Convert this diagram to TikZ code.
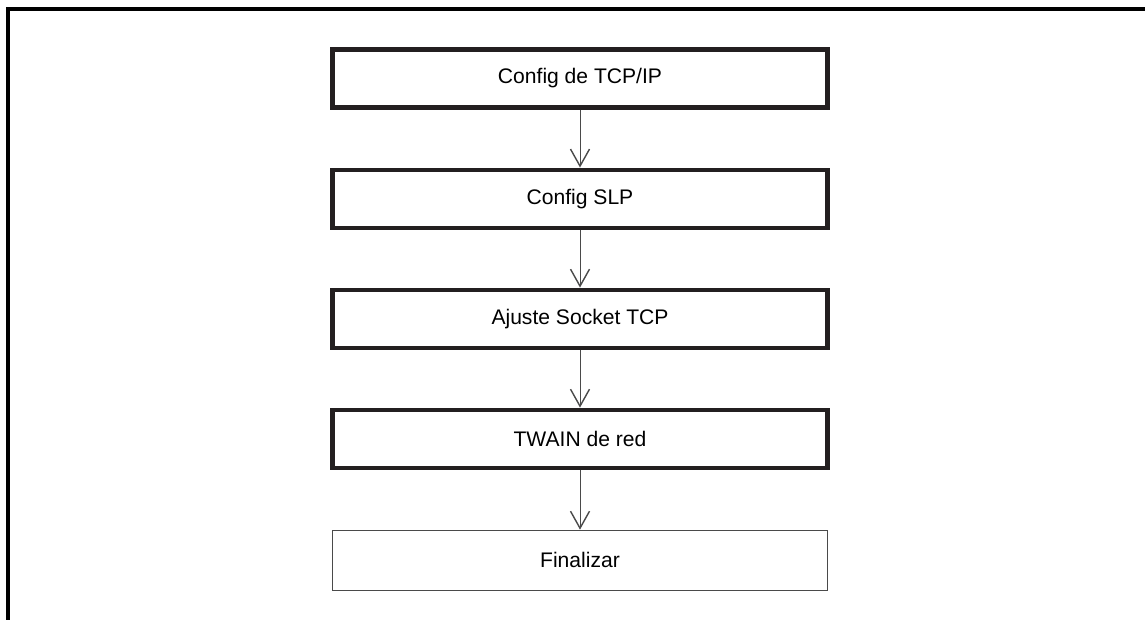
\documentclass[tikz,border=0pt]{standalone}
\usepackage{fontspec}
\setmainfont{Liberation Sans}
\usetikzlibrary{arrows.meta, positioning}

\definecolor{boxInk}{HTML}{231F20}
\definecolor{arrowInk}{HTML}{4A4A4A}

\begin{document}
\begin{tikzpicture}[
        node distance=1.16cm,
        stepBox/.style={
            rectangle,
            draw=boxInk,
            line width=2.3pt,
            minimum width=9.9cm,
            minimum height=1.16cm,
            font=\fontsize{12}{14}\selectfont
        },
        endBox/.style={
            stepBox,
            draw=arrowInk,
            line width=0.9pt,
            minimum height=1.2cm
        },
        flowArrow/.style={
            -{Straight Barb[length=3.4mm, width=3.8mm, line width=0.8pt]},
            draw=arrowInk,
            line width=0.5pt
        },
        frameLine/.style={
            draw=black,
            line width=2pt
        }
    ]

        \useasboundingbox (0,0) rectangle (22.9,-12.4);

        % Outer frame
        \coordinate (frameEnd) at (22.9,-0.18);
        \coordinate (frameFoot) at (0.155,-12.4);
        \draw[frameLine] (frameEnd) -| (frameFoot);

        % Setup steps
        \node[stepBox] (tcpip) at (11.6,-1.57) {Config de TCP/IP};
        \node[stepBox, below=of tcpip] (slp) {Config SLP};
        \node[stepBox, below=of slp] (socket) {Ajuste Socket TCP};
        \node[stepBox, below=of socket] (twain) {TWAIN de red};
        \node[endBox, below=1.2cm of twain] (finish) {Finalizar};

        % Flow
        \draw[flowArrow] (tcpip) -- (slp);
        \draw[flowArrow] (slp) -- (socket);
        \draw[flowArrow] (socket) -- (twain);
        \draw[flowArrow] (twain) -- (finish);

    \end{tikzpicture}
\end{document}
